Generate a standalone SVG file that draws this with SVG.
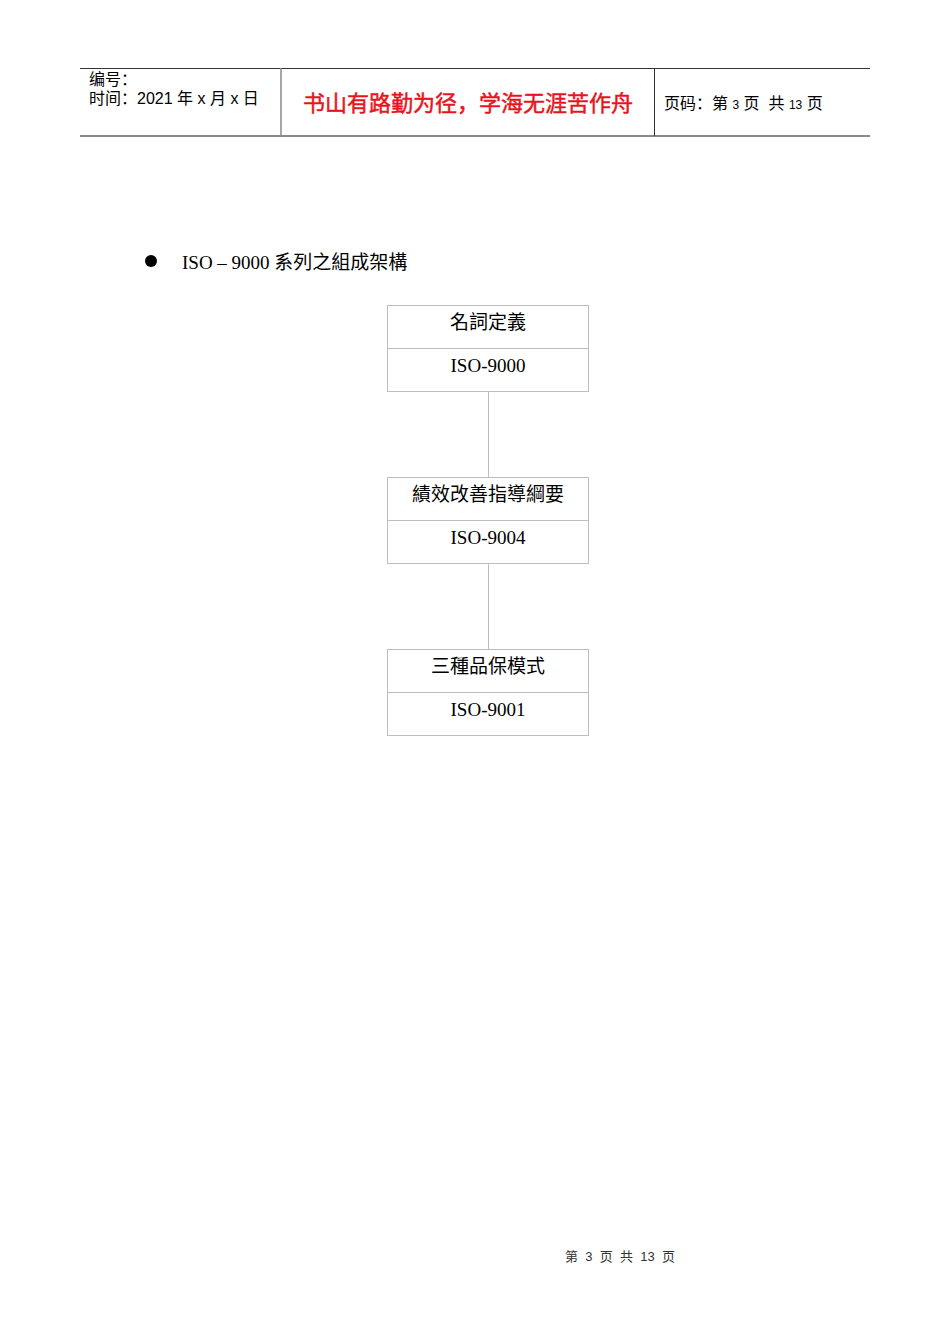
<svg xmlns="http://www.w3.org/2000/svg" width="950" height="1344" viewBox="0 0 950 1344">
<style>
text{white-space:pre}
.hd{font-family:"Liberation Sans","Noto Sans CJK SC",sans-serif;font-size:16px;fill:#000}
.red{font-family:"Noto Sans CJK SC",sans-serif;font-size:22px;fill:#e8141c;stroke:#e8141c;stroke-width:0.5}
.cj{font-family:"Liberation Serif","Noto Sans CJK TC",serif;font-size:19px;fill:#000}
.box{fill:#fff;stroke:#bdbdbd;stroke-width:1}
.con{stroke:#bdbdbd;stroke-width:1;fill:none}
.ft{font-family:"Liberation Sans","Noto Sans CJK SC",sans-serif;font-size:13px;fill:#333}
</style>
<rect width="950" height="1344" fill="#fff"/>
<g id="header">
<line x1="80" y1="68.5" x2="870" y2="68.5" stroke="#333" stroke-width="1"/>
<line x1="80" y1="136" x2="870" y2="136" stroke="#8a8a8a" stroke-width="2"/>
<line x1="281" y1="68" x2="281" y2="136" stroke="#8a8a8a" stroke-width="1.5"/>
<line x1="654.5" y1="68" x2="654.5" y2="136" stroke="#333" stroke-width="1"/>
<text class="hd" x="89" y="85">编号：</text>
<text class="hd" x="89" y="104">时间：2021 年 x 月 x 日</text>
<text class="red" x="468" y="111" text-anchor="middle">书山有路勤为径，学海无涯苦作舟</text>
<text class="hd" x="664" y="109">页码：第 <tspan font-size="12">3</tspan> 页  共 <tspan font-size="12">13</tspan> 页</text>
</g>
<g id="title">
<circle cx="151" cy="261" r="6" fill="#000"/>
<text x="182" y="269" font-family="Liberation Serif,'Noto Sans CJK TC',serif" font-size="19">ISO – 9000 系列之組成架構</text>
</g>
<g id="connectors">
<line class="con" x1="488.5" y1="391" x2="488.5" y2="477"/>
<line class="con" x1="488.5" y1="563" x2="488.5" y2="649"/>
</g>
<g id="node1">
<rect class="box" x="387.5" y="305.5" width="201" height="86"/>
<line class="con" x1="387.5" y1="348.5" x2="588.5" y2="348.5"/>
<text class="cj" x="488" y="329" text-anchor="middle" font-family="Noto Sans CJK TC,sans-serif">名詞定義</text>
<text class="cj" x="488" y="372" text-anchor="middle">ISO-9000</text>
</g>
<g id="node2">
<rect class="box" x="387.5" y="477.5" width="201" height="86"/>
<line class="con" x1="387.5" y1="520.5" x2="588.5" y2="520.5"/>
<text class="cj" x="488" y="501" text-anchor="middle" font-family="Noto Sans CJK TC,sans-serif">績效改善指導綱要</text>
<text class="cj" x="488" y="544" text-anchor="middle">ISO-9004</text>
</g>
<g id="node3">
<rect class="box" x="387.5" y="649.5" width="201" height="86"/>
<line class="con" x1="387.5" y1="692.5" x2="588.5" y2="692.5"/>
<text class="cj" x="488" y="673" text-anchor="middle" font-family="Noto Sans CJK TC,sans-serif">三種品保模式</text>
<text class="cj" x="488" y="716" text-anchor="middle">ISO-9001</text>
</g>
<g id="footer">
<text class="ft" x="620" y="1261" text-anchor="middle">第  3  页  共  13  页</text>
</g>
</svg>
